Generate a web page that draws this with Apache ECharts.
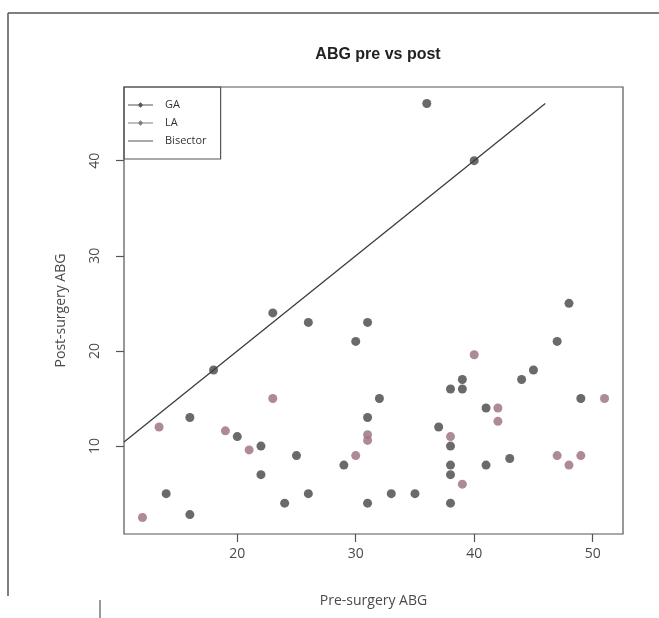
<!DOCTYPE html>
<html>
<head>
    <meta charset="utf-8">
    <title>ABG pre vs post</title>
    <script src="https://cdn.jsdelivr.net/npm/echarts@6/dist/echarts.min.js"></script>
    <style>
        html, body { margin: 0; padding: 0; background: #fff; }
        #chart { width: 659px; height: 618px; }
    </style>
</head>
<body>
<div id="chart"></div>
<script>
    // GA points (pre, post)
    var gaPre  = [23, 18, 16, 20, 16, 14, 24, 22, 22, 25, 30, 32, 31, 29, 26, 31, 33, 35, 26, 31, 37, 36, 40, 48, 47, 45, 44, 39, 38, 39, 49, 41, 38, 38, 38, 41, 43, 38];
    var gaPost = [24, 18, 13, 11, 2.8, 5, 4, 7, 10, 9, 21, 15, 13, 8, 5, 4, 5, 5, 23, 23, 12, 46, 40, 25, 21, 18, 17, 17, 16, 16, 15, 14, 10, 8, 7, 8, 8.7, 4];
    // LA points (pre, post)
    var laPre  = [23, 13.4, 19, 12, 21, 31, 31, 30, 40, 51, 42, 42, 38, 39, 47, 48, 49];
    var laPost = [15, 12, 11.6, 2.5, 9.6, 11.2, 10.6, 9, 19.6, 15, 14, 12.6, 11, 6, 9, 8, 9];
    // bisector y = x
    var bisector = [10.44, 46];

    var xTicks = [20, 30, 40, 50];
    var yTicks = [10, 20, 30, 40];

    function pairs(xs, ys) {
        var out = [];
        for (var i = 0; i < xs.length; i++) out.push([xs[i], ys[i]]);
        return out;
    }

    var txt = '#4a4a4a';
    var font = 'Open Sans';
    var dotIcon = 'path://M0,4.5L25,4.5L25,5.5L0,5.5Z M12.5,2.2L15.3,5L12.5,7.8L9.7,5Z M32,0L32,0.01L31.99,0Z M0,10L0.01,10L0,9.99Z';
    var lineIcon = 'path://M0,4.4L25,4.4L25,5.6L0,5.6Z M32,0L32,0.01L31.99,0Z M0,10L0.01,10L0,9.99Z';

    var myChart = echarts.init(document.getElementById('chart'), null, {renderer: 'canvas'});
    var option = {
        backgroundColor: '#fff',
        animation: false,
        title: {
            text: 'ABG pre vs post',
            left: 373,
            top: 42,
            textAlign: 'center',
            textStyle: {fontFamily: 'Liberation Sans', fontWeight: 'bold', fontSize: 16, color: '#222'}
        },
        legend: {
            orient: 'vertical',
            left: 124,
            top: 87,
            padding: [12, 14, 12, 4],
            itemWidth: 32,
            itemHeight: 10,
            itemGap: 6,
            borderColor: '#555',
            borderWidth: 1.2,
            textStyle: {fontFamily: font, fontSize: 11, color: '#333', lineHeight: 12},
            data: [
                {name: 'GA', icon: dotIcon, itemStyle: {color: '#555'}},
                {name: 'LA', icon: dotIcon, itemStyle: {color: '#6e6468'}},
                {name: 'Bisector', icon: lineIcon, itemStyle: {color: '#555'}}
            ]
        },
        grid: {
            left: 124, top: 87, right: 36, bottom: 84,
            show: true, borderColor: '#555', borderWidth: 1.2, backgroundColor: 'transparent'
        },
        xAxis: {
            type: 'value',
            min: 10.44, max: 52.56,
            name: 'Pre-surgery ABG',
            nameLocation: 'middle',
            nameGap: 60,
            nameTextStyle: {fontFamily: font, fontSize: 14, color: txt},
            axisLine: {show: false},
            splitLine: {show: false},
            axisTick: {show: true, inside: false, length: 8, customValues: xTicks, lineStyle: {color: '#555', width: 1.2}},
            axisLabel: {customValues: xTicks, margin: 13, fontFamily: font, fontSize: 14, color: txt}
        },
        yAxis: {
            type: 'value',
            min: 0.76, max: 47.74,
            name: 'Post-surgery ABG',
            nameLocation: 'middle',
            nameGap: 56,
            nameTextStyle: {fontFamily: font, fontSize: 14, color: txt},
            axisLine: {show: false},
            splitLine: {show: false},
            axisTick: {show: true, inside: false, length: 8, customValues: yTicks, lineStyle: {color: '#555', width: 1.2}},
            axisLabel: {customValues: yTicks, rotate: 90, margin: 22, fontFamily: font, fontSize: 14, color: txt}
        },
        series: [
            {
                name: 'GA',
                type: 'scatter',
                symbol: 'circle',
                symbolSize: 9,
                itemStyle: {color: '#6a6a6a', opacity: 1},
                data: pairs(gaPre, gaPost),
                z: 3
            },
            {
                name: 'LA',
                type: 'scatter',
                symbol: 'circle',
                symbolSize: 9,
                itemStyle: {color: '#a07584', opacity: 0.85},
                data: pairs(laPre, laPost),
                z: 3
            },
            {
                name: 'Bisector',
                type: 'line',
                data: pairs(bisector, bisector),
                symbol: 'none',
                lineStyle: {color: '#3c3c3c', width: 1.3},
                itemStyle: {color: '#555'},
                z: 4
            }
        ],
        graphic: [
            {type: 'line', shape: {x1: 8, y1: 13, x2: 659, y2: 13}, style: {stroke: '#555', lineWidth: 1.5}},
            {type: 'line', shape: {x1: 8, y1: 13, x2: 8, y2: 596}, style: {stroke: '#555', lineWidth: 1.5}},
            {type: 'line', shape: {x1: 100, y1: 600, x2: 100, y2: 618}, style: {stroke: '#555', lineWidth: 1.2}}
        ]
    };
    myChart.setOption(option);
</script>
</body>
</html>
